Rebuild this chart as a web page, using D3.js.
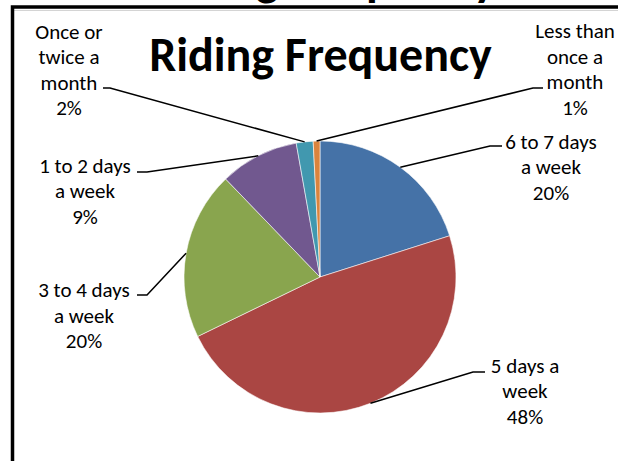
<!DOCTYPE html>
<html>
<head>
<meta charset="utf-8">
<script src="https://cdn.jsdelivr.net/npm/d3@7"></script>
<style>
  html, body { margin: 0; padding: 0; background: #fff; }
  svg { display: block; }
</style>
</head>
<body>
<script>
// ---- data ----
const title = "Riding Frequency";
const categories = ["6 to 7 days a week", "5 days a week", "3 to 4 days a week",
                    "1 to 2 days a week", "Once or twice a month", "Less than once a month"];
const values = [20.1, 47.7, 20.0, 9.4, 2.0, 0.8];
const labelLines = [["6 to 7 days", "a week"], ["5 days a", "week"], ["3 to 4 days", "a week"],
                    ["1 to 2 days", "a week"], ["Once or", "twice a", "month"], ["Less than", "once a", "month"]];
const palette = ["#4572A7", "#AA4643", "#89A54E", "#71588F", "#4198AF", "#DB843D"];

// ---- layout (not data) ----
const W = 618, H = 461;
const cx = 320, cy = 277, R = 136;
const font = "Carlito, Calibri, Lato, sans-serif";
const labelSize = 21, lineGap = 25.5;
// label text centre x, first baseline y, leader end point (x,y), elbow x
const labelLayout = [
  {tx: 551, by: 148.5, ex: 502, ey: 146, kx: 490},
  {tx: 525, by: 372.5, ex: 485, ey: 372, kx: 473},
  {tx: 84,  by: 297,   ex: 137, ey: 295, kx: 147},
  {tx: 85,  by: 172.5, ex: 137, ey: 172, kx: 147},
  {tx: 69,  by: 38.5,  ex: 103, ey: 88,  kx: 110},
  {tx: 575, by: 38,    ex: 543, ey: 88,  kx: 533}
];

const svg = d3.select("body").append("svg").attr("width", W).attr("height", H);
svg.append("rect").attr("width", W).attr("height", H).attr("fill", "#fff");

// cropped title of the enclosing chart (only descenders visible, as in the reference)
svg.append("text").attr("x", 325).attr("y", -5).attr("text-anchor", "middle")
  .attr("font-family", font).attr("font-weight", "bold").attr("font-size", 48)
  .attr("fill", "#000").text(title);

// frame
svg.append("line").attr("x1", 14).attr("x2", W).attr("y1", 10.5).attr("y2", 10.5)
  .attr("stroke", "#d4d4d4").attr("stroke-width", 1);
svg.append("rect").attr("x", 12.5).attr("y", 7).attr("width", W + 20).attr("height", H + 20)
  .attr("fill", "none").attr("stroke", "#000").attr("stroke-width", 3.5);

// title
svg.append("text").attr("x", 320.5).attr("y", 71).attr("text-anchor", "middle")
  .attr("font-family", font).attr("font-weight", "bold").attr("font-size", 48)
  .attr("fill", "#000").text(title);

const data = categories.map((c, i) => ({category: c, value: values[i], lines: labelLines[i], color: palette[i], layout: labelLayout[i]}));
const total = d3.sum(values);
const pct = d3.format(".0%");

const pie = d3.pie().value(d => d.value).sort(null);
const arcs = pie(data);
const arc = d3.arc().innerRadius(0).outerRadius(R);
const edge = d3.arc().innerRadius(R).outerRadius(R);

const g = svg.append("g").attr("transform", `translate(${cx},${cy})`);
g.selectAll("path.slice").data(arcs).join("path").attr("class", "slice")
  .attr("d", arc).attr("fill", d => d.data.color)
  .attr("stroke", "#fff").attr("stroke-width", 0.7).attr("stroke-opacity", 0.8);

// leader lines
arcs.forEach(a => {
  const [px, py] = edge.centroid(a);
  const L = a.data.layout;
  svg.append("polyline")
    .attr("points", `${cx + px},${cy + py} ${L.kx},${L.ey} ${L.ex},${L.ey}`)
    .attr("fill", "none").attr("stroke", "#000").attr("stroke-width", 1.5);
});

// labels
arcs.forEach(a => {
  const L = a.data.layout;
  const lines = a.data.lines.concat([pct(a.data.value / total)]);
  const t = svg.append("text").attr("text-anchor", "middle")
    .attr("font-family", font).attr("font-size", labelSize).attr("fill", "#000");
  lines.forEach((s, i) => {
    t.append("tspan").attr("x", L.tx).attr("y", L.by + i * lineGap).text(s);
  });
});
</script>
</body>
</html>
